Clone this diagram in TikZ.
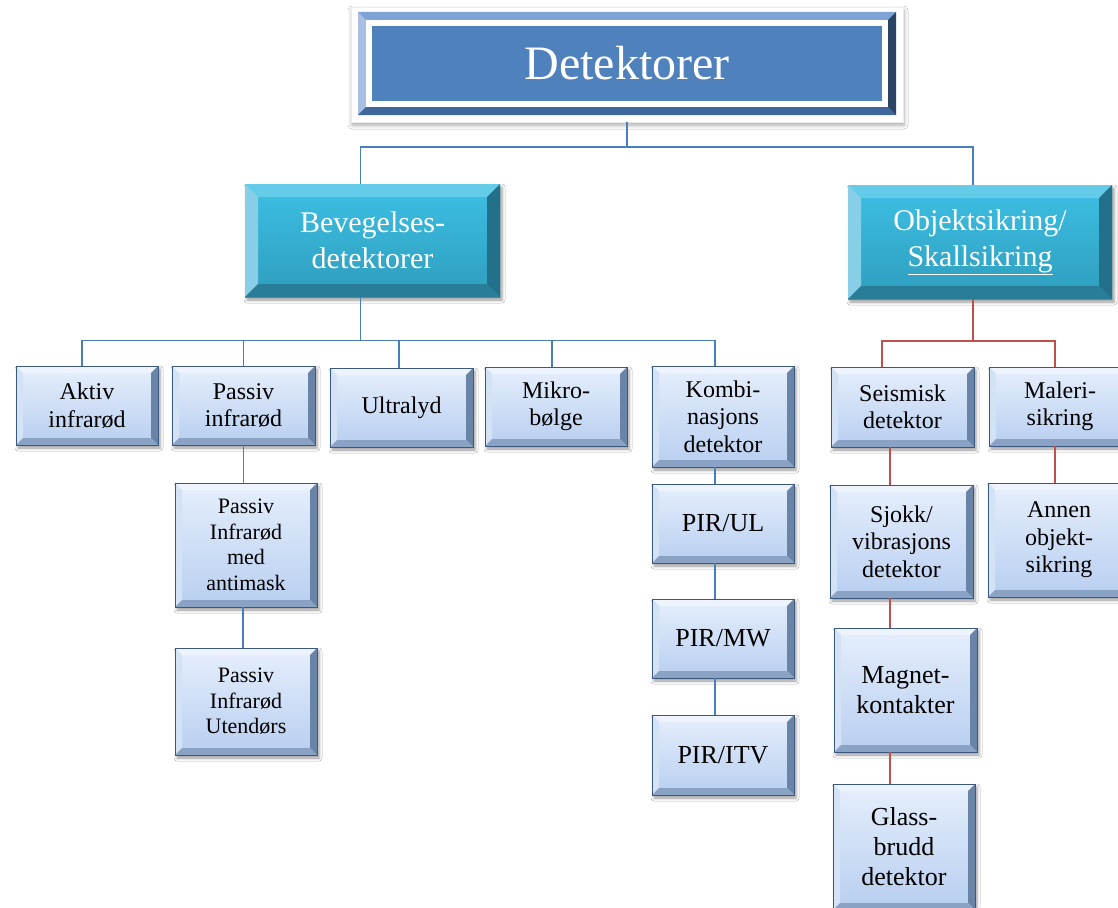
\documentclass[tikz,border=0pt]{standalone}
\usepackage{fontspec}
\setmainfont{Liberation Serif}
\usetikzlibrary{shadows.blur}

% palette
\definecolor{lnblue}{HTML}{4A7EBB}
\definecolor{lnred}{HTML}{C0504D}
% light blue boxes
\definecolor{sFaceT}{HTML}{E6EFFC}
\definecolor{sFaceB}{HTML}{B8CEF0}
\definecolor{sBevT}{HTML}{EEF4FD}
\definecolor{sBevL}{HTML}{D4E2F6}
\definecolor{sBevR}{HTML}{6A84A8}
\definecolor{sBevB}{HTML}{8AA2C4}
\definecolor{sLine}{HTML}{3B587E}
% teal boxes
\definecolor{cFaceT}{HTML}{3DC0E4}
\definecolor{cFaceB}{HTML}{2E9DBD}
\definecolor{cBevT}{HTML}{64CBE9}
\definecolor{cBevL}{HTML}{86CFE6}
\definecolor{cBevR}{HTML}{23708A}
\definecolor{cBevB}{HTML}{2A7D96}
% title box
\definecolor{tFace}{HTML}{4F81BD}
\definecolor{tBevT}{HTML}{7EA3D6}
\definecolor{tBevL}{HTML}{A6BFE2}
\definecolor{tBevR}{HTML}{2B4466}
\definecolor{tBevB}{HTML}{3F679C}

% four bevel faces inside the current path picture bounding box
% #1 bevel width, #2 top, #3 left, #4 right, #5 bottom
\newcommand\bevelfaces[5]{%
  \fill[#2] (path picture bounding box.north west) -- (path picture bounding box.north east)
     -- ([shift={(-#1,-#1)}]path picture bounding box.north east)
     -- ([shift={(#1,-#1)}]path picture bounding box.north west) -- cycle;
  \fill[#3] (path picture bounding box.north west) -- ([shift={(#1,-#1)}]path picture bounding box.north west)
     -- ([shift={(#1,#1)}]path picture bounding box.south west) -- (path picture bounding box.south west) -- cycle;
  \fill[#4] (path picture bounding box.north east) -- ([shift={(-#1,-#1)}]path picture bounding box.north east)
     -- ([shift={(-#1,#1)}]path picture bounding box.south east) -- (path picture bounding box.south east) -- cycle;
  \fill[#5] (path picture bounding box.south west) -- ([shift={(#1,#1)}]path picture bounding box.south west)
     -- ([shift={(-#1,#1)}]path picture bounding box.south east) -- (path picture bounding box.south east) -- cycle;
}

\tikzset{
  softshadow/.style={blur shadow={shadow xshift=2pt, shadow yshift=-3pt,
      shadow blur radius=3pt, shadow opacity=40}},
  box/.style={rectangle, inner sep=0pt, align=center, draw=sLine, line width=0.9pt,
      top color=sFaceT, bottom color=sFaceB, softshadow,
      path picture={\bevelfaces{7pt}{sBevT}{sBevL}{sBevR}{sBevB}},
      text=black, font=\fontsize{24}{27.5}\selectfont},
  bigbox/.style={rectangle, inner sep=0pt, align=center, draw=none,
      top color=cFaceT, bottom color=cFaceB, softshadow,
      path picture={\bevelfaces{13pt}{cBevT}{cBevL}{cBevR}{cBevB}},
      text=white, font=\fontsize{30}{36}\selectfont},
  titleframe/.style={rectangle, fill=white, draw=black!8, line width=0.5pt,
      blur shadow={shadow xshift=1pt, shadow yshift=-3pt, shadow blur radius=4pt, shadow opacity=35}},
  titlebox/.style={rectangle, inner sep=0pt, fill=tFace, draw=none,
      path picture={\bevelfaces{8pt}{tBevT}{tBevL}{tBevR}{tBevB}
        \draw[white, line width=6pt]
          ([shift={(11pt,-11pt)}]path picture bounding box.north west) rectangle
          ([shift={(-11pt,11pt)}]path picture bounding box.south east);},
      text=white, font=\fontsize{48}{54}\selectfont},
  sz/.style 2 args={minimum width=#1pt, minimum height=#2pt},
  small/.style={font=\fontsize{22}{25.5}\selectfont},
  large/.style={font=\fontsize{26}{30}\selectfont},
  bl/.style={draw=lnblue, line width=1.2pt},
  rd/.style={draw=lnred, line width=1.5pt},
}

\begin{document}
\begin{tikzpicture}[x=1pt,y=-1pt]
\path[fill=white, use as bounding box] (0,0) rectangle (1118,907);

% top level
\node[titleframe, sz={552}{115}] (title) at (627,64.5) {};
\node[titlebox, sz={538}{103}] (titleface) at (627,63.5) {Detektorer};

% second level
\node[bigbox, sz={255}{113}] (bev) at (372.5,240.5) {Bevegelses-\\detektorer};
\node[bigbox, sz={264}{114}] (obj) at (980,242) {Objektsikring/\\\underline{Skallsikring}};

% motion detectors
\node[box, sz={142}{79}] (aktiv) at (87,405.5) {Aktiv\\infrarød};
\node[box, sz={143}{79}] (passiv) at (243.5,405.5) {Passiv\\infrarød};
\node[box, sz={143}{79}] (ultra) at (401.5,407.5) {Ultralyd};
\node[box, sz={142}{79}] (mikro) at (556,406.5) {Mikro-\\bølge};
\node[box, sz={142}{101}] (kombi) at (723,416.5) {Kombi-\\nasjons\\detektor};

\node[box, small, sz={142}{124}] (pim) at (246,545) {Passiv\\Infrarød\\med\\antimask};
\node[box, small, sz={142}{107}] (piu) at (246,701.5) {Passiv\\Infrarød\\Utendørs};

\node[box, large, sz={142}{79}] (pirul) at (723,523.5) {PIR/UL};
\node[box, large, sz={142}{79}] (pirmw) at (723,638.5) {PIR/MW};
\node[box, large, sz={142}{80}] (piritv) at (723,755) {PIR/ITV};

% object / perimeter protection
\node[box, sz={143}{80}] (seis) at (902.5,407) {Seismisk\\detektor};
\node[box, sz={142}{79}] (maleri) at (1060,406.5) {Maleri-\\sikring};
\node[box, sz={143}{113}] (sjokk) at (901.5,541.5) {Sjokk/\\vibrasjons\\detektor};
\node[box, sz={142}{114}] (annen) at (1059,540) {Annen\\objekt-\\sikring};
\node[box, large, sz={143}{124}] (magnet) at (905.5,690) {Magnet-\\kontakter};
\node[box, large, sz={142}{126}] (glass) at (904,847) {Glass-\\brudd\\detektor};

% connectors: top level
\coordinate (j0) at (627,147);
\draw[bl] (title.south) -- (j0);
\draw[bl] ([xshift=-12pt]bev.north) |- (j0) -| ([xshift=-7pt]obj.north);

% connectors: motion detectors
\draw[bl] ([xshift=-12pt]bev.south) -- ++(0,43) coordinate (j1);
\draw[bl] ([xshift=-5pt]aktiv.north) |- (j1) -| ([xshift=-8pt]kombi.north);
\draw[bl] (passiv.north) -- (passiv.north |- j1);
\draw[bl] ([xshift=-2.5pt]ultra.north) -- ([xshift=-2.5pt]ultra.north |- j1);
\draw[bl] ([xshift=-4pt]mikro.north) -- ([xshift=-4pt]mikro.north |- j1);

\draw[bl] (passiv.south) -- (passiv.south |- pim.north);
\draw[bl] ([xshift=-3pt]pim.south) -- ([xshift=-3pt]pim.south |- piu.north);

\draw[bl] ([xshift=-8pt]kombi.south) -- ([xshift=-8pt]pirul.north);
\draw[bl] ([xshift=-8pt]pirul.south) -- ([xshift=-8pt]pirmw.north);
\draw[bl] ([xshift=-8pt]pirmw.south) -- ([xshift=-8pt]piritv.north);

% connectors: object protection
\draw[rd] ([xshift=-7pt]obj.south) -- ++(0,42) coordinate (j2);
\draw[rd] ([xshift=-20.5pt]seis.north) |- (j2) -| ([xshift=-5pt]maleri.north);
\draw[rd] ([xshift=-12.5pt]seis.south) -- ([xshift=-12.5pt]seis.south |- sjokk.north);
\draw[rd] ([xshift=-11.5pt]sjokk.south) -- ([xshift=-11.5pt]sjokk.south |- magnet.north);
\draw[rd] ([xshift=-15.5pt]magnet.south) -- ([xshift=-15.5pt]magnet.south |- glass.north);
\draw[rd] ([xshift=-5pt]maleri.south) -- ([xshift=-5pt]maleri.south |- annen.north);
\end{tikzpicture}
\end{document}
